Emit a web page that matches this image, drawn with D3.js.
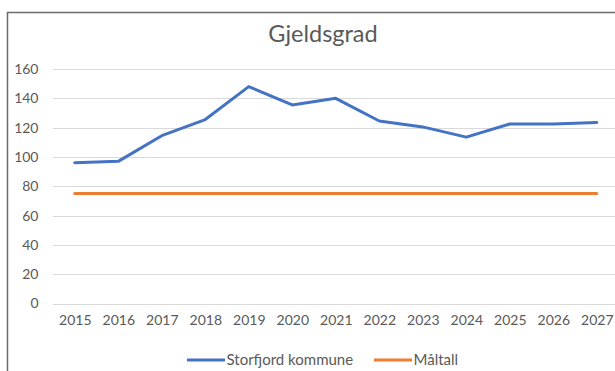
<!DOCTYPE html>
<html>
<head>
<meta charset="utf-8">
<script src="https://cdn.jsdelivr.net/npm/d3@7"></script>
<style>
  html, body { margin: 0; padding: 0; background: #fff; }
  svg { display: block; font-family: Lato, "Open Sans", sans-serif; }
</style>
</head>
<body>
<svg id="chart" width="615" height="371"></svg>
<script>
// Gjeldsgrad for Storfjord kommune, 2015–2027, with the target level (Måltall)
const years = ["2015","2016","2017","2018","2019","2020","2021","2022","2023","2024","2025","2026","2027"];
const storfjord = [96, 97, 114.5, 125.5, 148, 135.5, 140, 124.5, 120.5, 113.5, 122.5, 122.5, 123.5];
const maltall = [75, 75, 75, 75, 75, 75, 75, 75, 75, 75, 75, 75, 75];
const yTicks = [0, 20, 40, 60, 80, 100, 120, 140, 160];
const seriesNames = ["Storfjord kommune", "Måltall"];
const seriesColors = ["#4472C4", "#ED7D31"];

const svg = d3.select("#chart");
const textColor = "#595959";

// Outer chart frame (left and top edges visible in the window)
svg.append("path")
  .attr("d", "M7.5,371 V12.5 H615")
  .attr("fill", "none")
  .attr("stroke", "#6b6b6b")
  .attr("stroke-width", 1.5);

// Title
svg.append("text")
  .attr("x", 323).attr("y", 41.5)
  .attr("text-anchor", "middle")
  .attr("font-size", 23.5)
  .attr("fill", textColor)
  .text("Gjeldsgrad");

const x = d3.scalePoint().domain(years).range([53, 618.5]).padding(0.5);
const y = d3.scaleLinear().domain([0, 160]).range([303.5, 69]);

// Horizontal gridlines
svg.append("g")
  .selectAll("line")
  .data(yTicks)
  .join("line")
  .attr("x1", 53).attr("x2", 618)
  .attr("y1", d => Math.round(y(d)) + 0.5)
  .attr("y2", d => Math.round(y(d)) + 0.5)
  .attr("stroke", "#d9d9d9")
  .attr("stroke-width", 1);

// Y axis labels
const yAxis = d3.axisLeft(y).tickValues(yTicks).tickSize(0).tickPadding(0);
svg.append("g")
  .attr("transform", "translate(38.5,0)")
  .call(yAxis)
  .call(g => g.select(".domain").remove())
  .call(g => g.selectAll("text")
    .attr("font-family", "Lato, 'Open Sans', sans-serif")
    .attr("font-size", 14)
    .attr("fill", textColor));

// X axis labels
const xAxis = d3.axisBottom(x).tickSize(0).tickPadding(0);
svg.append("g")
  .attr("transform", "translate(0,315.5)")
  .call(xAxis)
  .call(g => g.select(".domain").remove())
  .call(g => g.selectAll("text")
    .attr("font-family", "Lato, 'Open Sans', sans-serif")
    .attr("font-size", 14)
    .attr("fill", textColor));

// Series lines
const line = d3.line()
  .x((d, i) => x(years[i]))
  .y(d => y(d));

[maltall, storfjord].forEach((vals, k) => {
  const color = k === 0 ? seriesColors[1] : seriesColors[0];
  svg.append("path")
    .datum(vals)
    .attr("d", line)
    .attr("fill", "none")
    .attr("stroke", color)
    .attr("stroke-width", 3)
    .attr("stroke-linejoin", "round")
    .attr("stroke-linecap", "round");
});

// Legend
const legendItems = [
  { name: seriesNames[0], color: seriesColors[0], x0: 187, x1: 225 },
  { name: seriesNames[1], color: seriesColors[1], x0: 374, x1: 412 }
];
const legend = svg.append("g");
legendItems.forEach(item => {
  legend.append("line")
    .attr("x1", item.x0).attr("x2", item.x1)
    .attr("y1", 360).attr("y2", 360)
    .attr("stroke", item.color)
    .attr("stroke-width", 3);
  legend.append("text")
    .attr("x", item.x1 + 1.5).attr("y", 360)
    .attr("dy", "0.35em")
    .attr("font-size", 15)
    .attr("fill", textColor)
    .text(item.name);
});
</script>
</body>
</html>
